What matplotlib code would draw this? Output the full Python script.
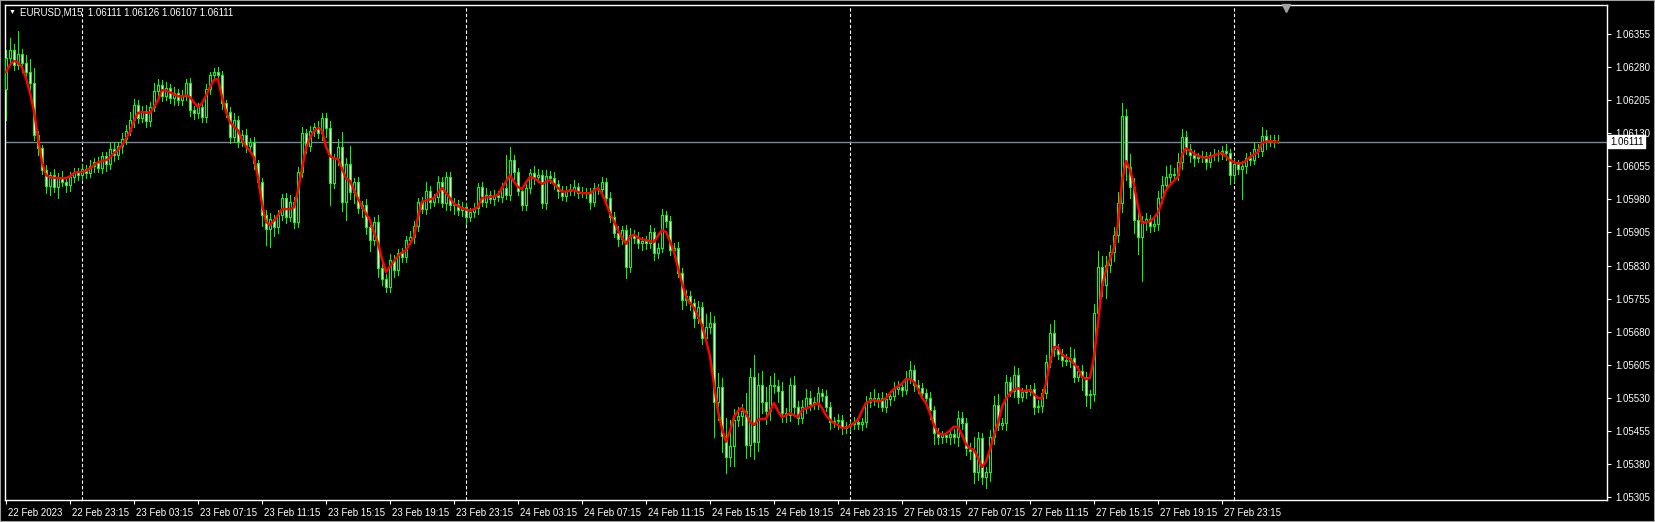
import numpy as np
import pandas as pd
import matplotlib
matplotlib.use('Agg')
import matplotlib.pyplot as plt
import matplotlib.transforms as mtransforms

plt.rcParams['font.family'] = ['Liberation Sans', 'DejaVu Sans']

# EURUSD M15, prices in points above 1.05000
symbol = 'EURUSD,M15'
base_price = 1.05
first_open = 1230
closes = [
    1300, 1318, 1285, 1310, 1290, 1268, 1244, 1126, 1096, 1047,
    1010, 1035, 1008, 1030, 1020, 1012, 1030, 1042, 1035, 1048,
    1040, 1055, 1065, 1052, 1078, 1060, 1095, 1080, 1100, 1118,
    1135, 1160, 1195, 1165, 1180, 1158, 1190, 1225, 1240, 1215,
    1232, 1210, 1222, 1205, 1215, 1244, 1183, 1175, 1189, 1167,
    1230, 1262, 1268, 1262, 1198, 1178, 1121, 1160, 1110, 1125,
    1100, 1110, 1062, 1019, 945, 912, 935, 918, 945, 983,
    940, 975, 928, 1042, 1130, 1100, 1135, 1144, 1130, 1164,
    1142, 1017, 1074, 1098, 974, 1060, 997, 1019, 960, 967,
    917, 888, 929, 824, 800, 781, 842, 820, 858, 849,
    888, 895, 920, 974, 958, 1000, 975, 985, 1019, 972,
    1031, 967, 970, 955, 962, 940, 952, 960, 1008, 975,
    990, 982, 990, 985, 1005, 990, 1069, 1042, 1000, 967,
    1006, 1040, 1030, 1036, 972, 1034, 1028, 1015, 998, 988,
    1000, 1003, 1007, 995, 997, 995, 974, 1006, 1004, 1019,
    983, 940, 904, 890, 910, 826, 900, 893, 880, 885,
    880, 906, 858, 870, 944, 931, 865, 870, 813, 752,
    760, 745, 711, 735, 666, 690, 700, 520, 555, 443,
    395, 420, 480, 488, 500, 423, 577, 430, 560, 520,
    500, 560, 556, 545, 495, 490, 560, 510, 485, 510,
    530, 515, 520, 540, 535, 510, 475, 478, 480, 462,
    465, 470, 475, 470, 475, 520, 530, 525, 530, 510,
    528, 535, 550, 555, 548, 575, 593, 560, 552, 540,
    530, 502, 450, 440, 445, 440, 448, 440, 485, 473,
    416, 410, 362, 439, 350, 362, 441, 514, 468, 472,
    566, 545, 582, 532, 542, 546, 549, 509, 512, 540,
    611, 677, 640, 630, 615, 614, 620, 577, 590, 577,
    536, 538, 722, 827, 786, 831, 861, 899, 972, 1169,
    1054, 1008, 933, 895, 930, 935, 920, 925, 983, 1013,
    1030, 1037, 1035, 1065, 1121, 1095, 1080, 1075, 1076, 1078,
    1065, 1080, 1082, 1083, 1090, 1085, 1035, 1060, 1050, 1055,
    1075, 1070, 1095, 1090, 1123, 1110, 1115, 1111, 1111,
]
upper_wicks = [
    20, 28, 15, 52, 12, 18, 30, 35, 10, 8,
    12, 8, 15, 10, 14, 8, 12, 10, 9, 12,
    10, 14, 8, 12, 10, 9, 12, 15, 10, 12,
    14, 18, 12, 10, 12, 15, 10, 20, 12, 10,
    15, 10, 12, 8, 14, 10, 12, 8, 10, 12,
    12, 8, 10, 12, 10, 8, 12, 15, 10, 12,
    14, 10, 12, 8, 10, 12, 15, 10, 12, 10,
    12, 14, 10, 12, 15, 10, 12, 10, 14, 12,
    12, 15, 10, 20, 35, 15, 40, 10, 12, 10,
    14, 12, 10, 15, 12, 10, 14, 12, 10, 12,
    10, 14, 12, 10, 12, 20, 10, 8, 15, 12,
    12, 10, 14, 8, 12, 10, 8, 12, 10, 12,
    15, 10, 12, 8, 12, 75, 30, 12, 10, 8,
    12, 10, 15, 12, 10, 12, 10, 15, 10, 12,
    10, 12, 18, 10, 12, 8, 10, 12, 10, 12,
    10, 14, 12, 15, 10, 12, 14, 10, 12, 10,
    12, 15, 10, 12, 14, 10, 12, 10, 14, 12,
    15, 12, 10, 14, 12, 30, 25, 15, 30, 20,
    40, 60, 25, 20, 15, 40, 20, 50, 25, 30,
    35, 20, 25, 15, 20, 12, 15, 20, 12, 15,
    20, 15, 12, 15, 10, 12, 10, 8, 12, 10,
    10, 8, 12, 10, 8, 15, 12, 20, 10, 12,
    12, 10, 15, 12, 10, 15, 20, 12, 10, 12,
    10, 12, 10, 12, 10, 8, 12, 10, 15, 12,
    10, 12, 30, 14, 12, 10, 15, 20, 25, 12,
    15, 12, 20, 15, 10, 12, 10, 15, 12, 10,
    15, 20, 30, 12, 10, 15, 25, 20, 12, 15,
    12, 10, 20, 35, 25, 20, 15, 18, 25, 30,
    15, 30, 20, 15, 12, 15, 10, 12, 15, 20,
    25, 20, 15, 20, 18, 15, 10, 12, 10, 12,
    10, 8, 12, 10, 12, 15, 10, 12, 10, 12,
    10, 12, 15, 10, 22, 15, 10, 12, 15,
]
lower_wicks = [
    70, 15, 12, 10, 20, 14, 15, 12, 15, 10,
    15, 20, 12, 25, 10, 15, 12, 10, 12, 8,
    12, 10, 14, 10, 12, 15, 10, 12, 8, 14,
    12, 10, 15, 12, 10, 14, 12, 10, 15, 12,
    10, 12, 15, 10, 12, 10, 14, 12, 10, 12,
    12, 10, 12, 8, 12, 10, 14, 10, 12, 10,
    12, 10, 14, 12, 25, 35, 40, 20, 15, 12,
    14, 10, 12, 10, 12, 14, 10, 12, 10, 15,
    20, 50, 12, 15, 20, 40, 15, 25, 12, 20,
    15, 25, 12, 20, 15, 12, 10, 15, 12, 10,
    12, 10, 14, 12, 10, 12, 15, 10, 12, 10,
    15, 12, 20, 10, 12, 15, 10, 12, 14, 10,
    12, 10, 14, 8, 12, 10, 12, 15, 10, 12,
    10, 12, 15, 10, 12, 14, 10, 12, 15, 10,
    12, 10, 14, 12, 10, 12, 15, 10, 12, 10,
    14, 12, 10, 15, 12, 25, 10, 12, 10, 14,
    12, 10, 15, 12, 10, 14, 12, 15, 10, 20,
    12, 15, 20, 12, 15, 10, 12, 80, 40, 35,
    35, 20, 45, 15, 20, 30, 25, 40, 20, 25,
    30, 20, 15, 25, 20, 15, 12, 20, 15, 12,
    15, 12, 10, 15, 12, 10, 15, 12, 20, 15,
    12, 10, 12, 10, 14, 12, 10, 12, 15, 10,
    12, 15, 10, 12, 14, 10, 12, 15, 12, 10,
    15, 20, 25, 15, 12, 10, 15, 12, 20, 15,
    15, 20, 25, 18, 15, 25, 20, 15, 12, 10,
    15, 12, 14, 15, 10, 12, 10, 15, 12, 14,
    10, 12, 15, 12, 14, 10, 15, 12, 10, 30,
    25, 30, 15, 20, 25, 30, 15, 20, 15, 20,
    30, 25, 30, 40, 100, 20, 15, 12, 15, 12,
    12, 15, 10, 12, 15, 12, 15, 20, 10, 12,
    15, 12, 10, 14, 12, 15, 20, 15, 12, 70,
    15, 12, 10, 14, 12, 15, 10, 12, 4,
]
ma_line = [
    1269, 1285, 1294, 1291, 1280, 1255, 1222, 1180, 1120, 1065,
    1035, 1030, 1029, 1028, 1028, 1028, 1032, 1040, 1042, 1042,
    1045, 1050, 1058, 1064, 1067, 1069, 1075, 1085, 1092, 1103,
    1118, 1133, 1158, 1176, 1178, 1177, 1176, 1190, 1205, 1228,
    1227, 1223, 1218, 1214, 1214, 1216, 1212, 1200, 1189, 1198,
    1215, 1235, 1251, 1253, 1212, 1180, 1155, 1145, 1137, 1115,
    1100, 1090, 1075, 1030, 970, 929, 922, 932, 944, 958,
    958, 958, 962, 1000, 1050, 1096, 1120, 1135, 1142, 1137,
    1100, 1078, 1073, 1072, 1050, 1028, 1022, 1001, 982, 963,
    948, 933, 905, 881, 845, 815, 828, 840, 852, 860,
    865, 880, 895, 940, 975, 978, 980, 983, 995, 1006,
    995, 983, 970, 965, 960, 957, 954, 958, 963, 983,
    985, 985, 987, 990, 1006, 1020, 1035, 1020, 1008, 1003,
    1018, 1031, 1028, 1022, 1015, 1020, 1024, 1015, 1006, 997,
    998, 1000, 1001, 997, 994, 994, 994, 1000, 1006, 994,
    972, 949, 930, 910, 893, 879, 895, 900, 893, 889,
    888, 885, 883, 898, 910, 906, 885, 861, 825, 790,
    759, 745, 734, 715, 695, 661, 625, 560, 500, 460,
    430, 455, 486, 500, 507, 495, 475, 468, 480, 482,
    482, 500, 518, 500, 486, 490, 495, 490, 486, 502,
    506, 509, 514, 518, 507, 490, 480, 472, 468, 461,
    462, 466, 473, 480, 500, 518, 522, 525, 521, 524,
    529, 540, 550, 556, 562, 572, 572, 566, 550, 530,
    518, 495, 468, 450, 446, 448, 456, 464, 464, 446,
    425, 415, 412, 394, 373, 385, 412, 445, 473, 509,
    528, 540, 548, 552, 545, 546, 548, 538, 529, 529,
    563, 610, 645, 645, 627, 622, 618, 607, 597, 577,
    572, 575, 622, 699, 781, 820, 845, 870, 925, 1020,
    1067, 1047, 1013, 963, 926, 928, 930, 938, 950, 975,
    1001, 1013, 1022, 1031, 1081, 1096, 1090, 1084, 1079, 1076,
    1074, 1076, 1080, 1083, 1085, 1078, 1069, 1064, 1062, 1062,
    1068, 1076, 1082, 1087, 1108, 1111, 1112, 1111, 1110,
]

# two trading sessions (weekend gap is not drawn on an MT4 chart)
session_starts = ['2023-02-22 19:15', '2023-02-27 00:00']
session_bars = [211, 108]

y_ticks = [1.06355, 1.06280, 1.06205, 1.06130, 1.06055, 1.05980, 1.05905, 1.05830,
           1.05755, 1.05680, 1.05605, 1.05530, 1.05455, 1.05380, 1.05305]
x_tick_labels = ['22 Feb 2023', '22 Feb 23:15', '23 Feb 03:15', '23 Feb 07:15', '23 Feb 11:15',
                 '23 Feb 15:15', '23 Feb 19:15', '23 Feb 23:15', '24 Feb 03:15', '24 Feb 07:15',
                 '24 Feb 11:15', '24 Feb 15:15', '24 Feb 19:15', '24 Feb 23:15', '27 Feb 03:15',
                 '27 Feb 07:15', '27 Feb 11:15', '27 Feb 15:15', '27 Feb 19:15', '27 Feb 23:15']
header_ohlc = '1.06111 1.06126 1.06107 1.06111'
bid_price = 1.06111

# ---- build arrays
c = base_price + np.array(closes) / 1e5
o = np.concatenate([[base_price + first_open / 1e5], c[:-1]])
h = np.maximum(o, c) + np.array(upper_wicks) / 1e5
l = np.minimum(o, c) - np.array(lower_wicks) / 1e5
ma = base_price + np.array(ma_line) / 1e5
n = len(c)
x = np.arange(n)

times = pd.DatetimeIndex([])
for s, cnt in zip(session_starts, session_bars):
    times = times.append(pd.date_range(s, periods=cnt, freq='15min'))
day_starts = [i for i in range(1, n) if times[i].date() != times[i - 1].date()]

W, H = 1655, 522
fig = plt.figure(figsize=(W / 100, H / 100), dpi=100, facecolor='black')
ax = fig.add_axes([5 / W, 22 / H, 1602 / W, 495 / H])
ax.set_facecolor('black')
ax.set_xlim(-0.25, 400.25)
ax.set_ylim(1.05298, 1.06421)

# day separators
for d in day_starts:
    ax.axvline(d, color='white', lw=0.8, ls=(0, (3, 2)), zorder=0.5)

# bid line
ax.axhline(bid_price, color='#778899', lw=1, zorder=1)

# candles: wick, body fill (1 px), then 3 px wide lime outline
green = '#00ff00'
top = np.maximum(o, c)
bot = np.minimum(o, c)
fills = np.where(c > o, 'black', 'white')
ax.vlines(x, l, h, color=green, lw=0.72, zorder=2, antialiased=False)
ax.vlines(x, bot, top, colors=fills, lw=0.72, zorder=3, antialiased=False)
ax.vlines(x - 0.25, bot, top, color=green, lw=0.72, zorder=4, antialiased=False)
ax.vlines(x + 0.25, bot, top, color=green, lw=0.72, zorder=4, antialiased=False)
ax.hlines(top, x - 0.25, x + 0.25, color=green, lw=0.72, zorder=4, antialiased=False)
ax.hlines(bot, x - 0.25, x + 0.25, color=green, lw=0.72, zorder=4, antialiased=False)

# moving average
ax.plot(x, ma, color='#ff0000', lw=1.8, zorder=5, solid_joinstyle='round')

# axes styling
for sp in ax.spines.values():
    sp.set_color('white')
    sp.set_linewidth(1)
ax.yaxis.tick_right()
ax.set_yticks(y_ticks)
ax.set_yticklabels([f'{v:.5f}' for v in y_ticks])
ax.set_xticks(range(0, n, 16))
ax.set_xticklabels(x_tick_labels)
ax.tick_params(colors='white', labelsize=7, length=3, width=0.8, direction='out')
ax.tick_params(axis='y', pad=3)
ax.tick_params(axis='x', pad=3)
offset = mtransforms.ScaledTranslation(2 / 100, 0, fig.dpi_scale_trans)
for lbl in ax.get_xticklabels():
    lbl.set_horizontalalignment('left')
    lbl.set_transform(lbl.get_transform() + offset)

# bid price box on the price scale
trans = mtransforms.blended_transform_factory(ax.transAxes, ax.transData)
ax.text(1.0018, bid_price, f'{bid_price:.5f}', transform=trans, color='black', fontsize=7,
        va='center', ha='left', clip_on=False, zorder=10,
        bbox=dict(boxstyle='square,pad=0.15', fc='white', ec='white'))

# header
fig.text(12 / W, 1 - 12.5 / H, '▼', color='white', fontsize=5, ha='center', va='center')
fig.text(20 / W, 1 - 12.5 / H, f'{symbol}  {header_ohlc}', color='white', fontsize=7,
         ha='left', va='center')

# chart shift marker
ax.plot([(1286 - 5) / 1602], [1 - 3 / 495], marker='v', ms=6, color='#a0a0a0',
        transform=ax.transAxes, clip_on=False, zorder=10)

# window border
fig.add_artist(plt.Rectangle((0, 0), 1, 1, transform=fig.transFigure, fill=False,
                             ec='#a0a0a0', lw=1.5))

fig.savefig('out.png', dpi=100, facecolor='black')
